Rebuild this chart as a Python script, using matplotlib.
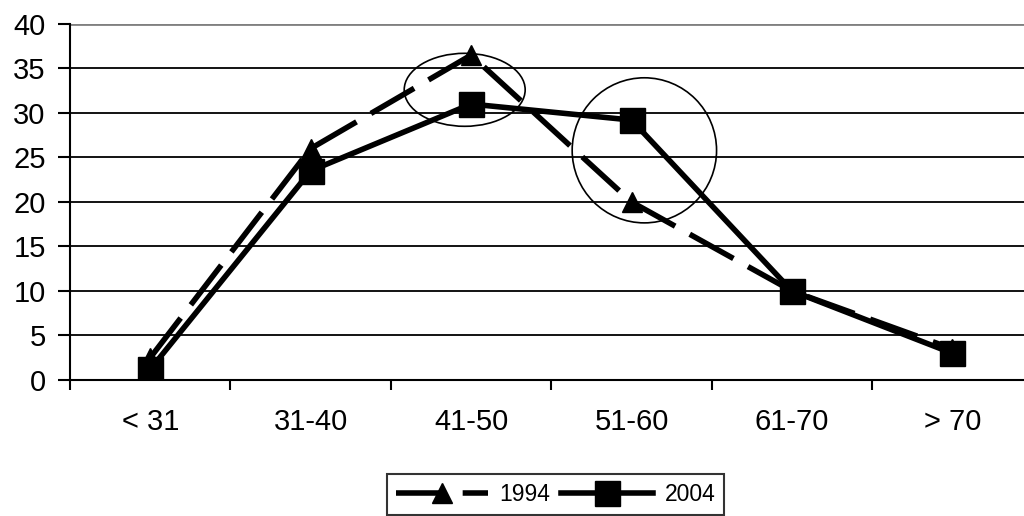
import matplotlib.pyplot as plt
from matplotlib.patches import Ellipse
import numpy as np

categories = ["< 31", "31-40", "41-50", "51-60", "61-70", "> 70"]
values_1994 = [2.5, 26, 36.5, 20, 10, 3.5]
values_2004 = [1.2, 23.5, 31, 29.2, 10, 3]

plt.rcParams["font.family"] = ["Liberation Sans", "DejaVu Sans"]

fig = plt.figure(figsize=(10.24, 5.16), dpi=100)
ax = fig.add_axes([0.0684, 0.2636, 0.940, 0.690])

x = np.arange(len(categories))

ax.plot(x, values_1994, color="black", lw=4, dashes=(9, 3), marker="^",
        markersize=15, label="1994", zorder=3)
ax.plot(x, values_2004, color="black", lw=4, marker="s",
        markersize=18, label="2004", zorder=4)

# highlight circles
ax.add_patch(Ellipse((1.96, 32.6), 0.754, 8.2, fill=False, ec="black", lw=1.2, zorder=5))
ax.add_patch(Ellipse((3.08, 25.8), 0.90, 16.3, fill=False, ec="black", lw=1.2, zorder=5))

ax.set_xlim(-0.5, 5.5)
ax.set_ylim(0, 40)
ax.set_yticks(range(0, 41, 5))
for yv in range(5, 41, 5):
    ax.axhline(yv, color="black" if yv < 40 else "#808080",
               lw=1.3 if yv < 40 else 2, zorder=1)

ax.set_xticks(np.arange(-0.5, 6, 1))
ax.set_xticklabels([])
ax.set_xticks(x, minor=True)
ax.set_xticklabels(categories, minor=True)
ax.tick_params(axis="x", which="major", length=7, width=1.5, direction="out")
ax.tick_params(axis="x", which="minor", length=0, pad=20, labelsize=21)
ax.tick_params(axis="y", length=8.5, width=1.5, labelsize=21, pad=9)

for s in ["top", "right"]:
    ax.spines[s].set_visible(False)
ax.spines["left"].set_linewidth(1.5)
ax.spines["bottom"].set_linewidth(1.5)

leg = fig.legend(loc="upper center", bbox_to_anchor=(0.5425, 0.0814), ncol=2,
                 fontsize=16.5, frameon=True, fancybox=False, edgecolor="black",
                 handlelength=4, columnspacing=0.5, handletextpad=0.5,
                 borderpad=0.4, borderaxespad=0)
leg.get_frame().set_linewidth(1.5)

fig.savefig("out.png", dpi=100)
plt.close(fig)
